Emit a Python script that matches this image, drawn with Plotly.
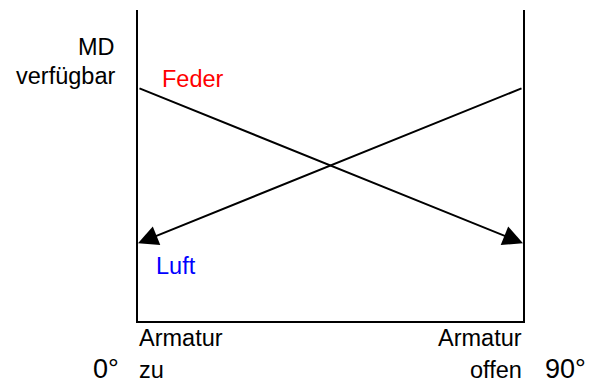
import plotly.graph_objects as go

# valve position (degrees) and available torque (relative units)
winkel = [0, 90]
feder = [75, 25]   # spring torque: high when closed, low when open
luft = [75, 25]    # air torque: high when open, low when closed (drawn from 90 to 0)
luft_winkel = [90, 0]

# page body has an 8px margin, so the figure is placed 8px in from the window corner
OFF = 8
W, H = 595 - OFF, 383 - OFF
L, T = 138 - OFF, 10 - OFF
R, B = W - (523 - OFF), H - (321 - OFF)
PW, PH = W - L - R, H - T - B
FONT = "Arial, Liberation Sans, sans-serif"
FS = 23.5


def px_x(p):
    return (p - OFF - L) / PW


def px_y(p):
    return (H - B - (p - OFF)) / PH


def label(text, x, baseline, anchor="left", color="black", size=FS):
    # x is the left/right edge in window pixels, baseline is the text baseline
    top = baseline - 0.905 * size - 1
    return dict(
        text=text, xref="paper", yref="paper",
        x=px_x(x), y=px_y(top), xanchor=anchor, yanchor="top",
        showarrow=False, font=dict(family=FONT, size=size, color=color),
    )


fig = go.Figure()

annotations = [
    # Feder: falls from 0° to 90°, arrow at the open end
    dict(x=winkel[1], y=feder[1], ax=winkel[0], ay=feder[0],
         xref="x", yref="y", axref="x", ayref="y", text="",
         showarrow=True, arrowhead=2, arrowsize=2, arrowwidth=2, arrowcolor="black"),
    # Luft: falls from 90° to 0°, arrow at the closed end
    dict(x=luft_winkel[1], y=luft[1], ax=luft_winkel[0], ay=luft[0],
         xref="x", yref="y", axref="x", ayref="y", text="",
         showarrow=True, arrowhead=2, arrowsize=2, arrowwidth=2, arrowcolor="black"),
    label("MD", 117, 54, "right"),
    label("verfügbar", 117, 83, "right"),
    label("Feder", 160, 86, color="#ff0000"),
    label("Luft", 154, 273, color="#0000ff"),
    label("Armatur", 137, 345),
    label("zu", 137, 377),
    label("Armatur", 524, 345, "right"),
    label("offen", 524, 377, "right"),
    label("0°", 91, 377, size=27),
    label("90°", 543, 377, size=27),
]

fig.update_layout(
    width=W, height=H,
    margin=dict(l=L, r=R, t=T, b=B),
    paper_bgcolor="white", plot_bgcolor="white",
    showlegend=False,
    annotations=annotations,
    xaxis=dict(range=[0, 90], showgrid=False, zeroline=False, showticklabels=False,
               ticks="", showline=True, linewidth=2, linecolor="black", fixedrange=True),
    yaxis=dict(range=[0, 100], showgrid=False, zeroline=False, showticklabels=False,
               ticks="", showline=True, mirror=True, linewidth=2, linecolor="black",
               fixedrange=True),
)

fig.write_html("out.html", config={"displayModeBar": False})
